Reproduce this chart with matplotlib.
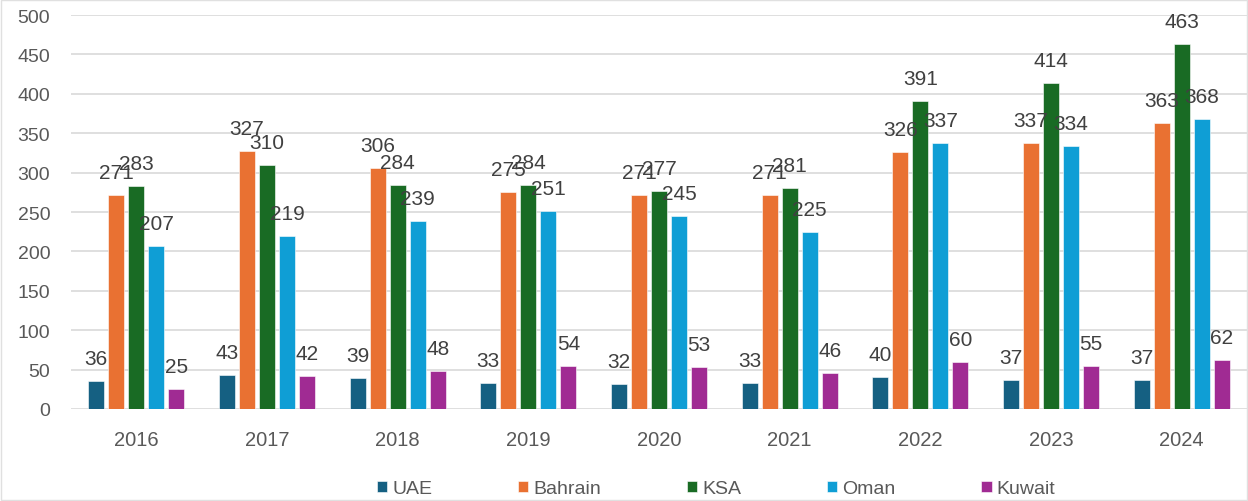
import matplotlib
matplotlib.use("Agg")
import matplotlib.pyplot as plt
import numpy as np
from matplotlib.patches import Rectangle

years = ["2016", "2017", "2018", "2019", "2020", "2021", "2022", "2023", "2024"]
series_names = ["UAE", "Bahrain", "KSA", "Oman", "Kuwait"]
uae = [36, 43, 39, 33, 32, 33, 40, 37, 37]
bahrain = [271, 327, 306, 275, 271, 271, 326, 337, 363]
ksa = [283, 310, 284, 284, 277, 281, 391, 414, 463]
oman = [207, 219, 239, 251, 245, 225, 337, 334, 368]
kuwait = [25, 42, 48, 54, 53, 46, 60, 55, 62]
colors = ["#156082", "#E97132", "#196B24", "#0F9ED5", "#A02B93"]

plt.rcParams['font.family'] = ['Liberation Sans', 'DejaVu Sans']
txt = "#595959"

W, H = 1248, 502
fig = plt.figure(figsize=(W / 100, H / 100), dpi=100)
ax = fig.add_axes([71 / W, 1 - 410 / H, (1247 - 71) / W, (410 - 16) / H])

x = np.arange(len(years))
step = 0.153
width = 0.1225
all_series = [uae, bahrain, ksa, oman, kuwait]
for i, (name, vals, c) in enumerate(zip(series_names, all_series, colors)):
    pos = x + (i - 2) * step
    ax.bar(pos, vals, width=width, color=c, label=name,
           edgecolor="white", linewidth=0.4, zorder=3)
    for xp, v in zip(pos, vals):
        ax.annotate(str(v), (xp, v), xytext=(0, 13), textcoords="offset pixels",
                    ha="center", va="bottom", fontsize=15, color="#404040", zorder=4)

ax.set_xlim(-0.5, len(years) - 0.5)
ax.set_ylim(0, 500)
ax.set_yticks(np.arange(0, 501, 50))
ax.set_xticks(x)
ax.set_xticklabels(years)
ax.grid(axis="y", color="#D9D9D9", linewidth=1.2, zorder=0)
for s in ax.spines.values():
    s.set_visible(False)
ax.tick_params(axis="both", length=0, colors=txt, labelsize=14)
ax.tick_params(axis="x", labelsize=14.5, pad=15)
ax.tick_params(axis="y", pad=15)

fig.legend(loc="center", bbox_to_anchor=(716 / W, 1 - 490 / H), ncol=5,
           frameon=False, fontsize=14, handlelength=0.55, handleheight=0.55,
           handletextpad=0.25, columnspacing=4.4, labelcolor=txt)

fig.patches.append(Rectangle((0.001, 0.001), 0.998, 0.998, transform=fig.transFigure,
                             fill=False, edgecolor="#E0E0E0", linewidth=1))

fig.savefig("out.png", dpi=100)
